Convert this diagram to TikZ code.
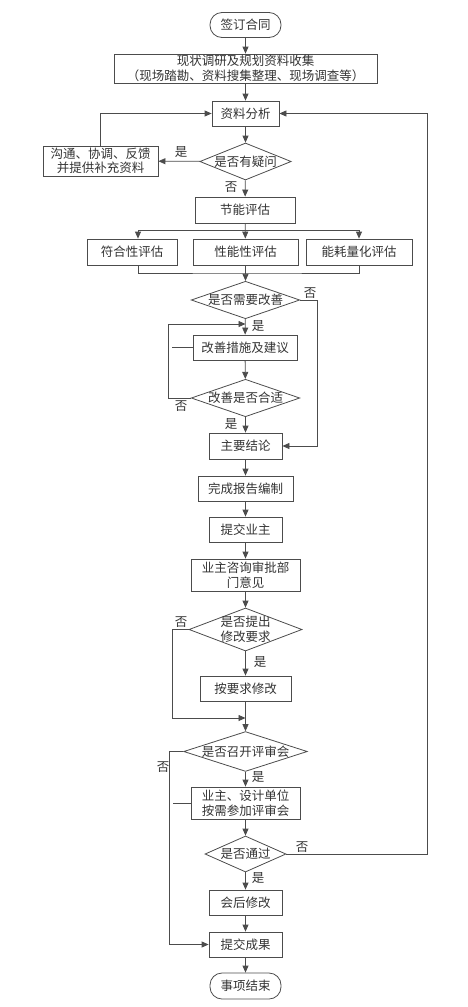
\documentclass[tikz,border=0pt]{standalone}
\usepackage{fontspec}
\setmainfont{Noto Sans CJK SC}
\usetikzlibrary{shapes.geometric,arrows.meta}
\tikzstyle{process}=[rectangle, draw=black!70, line width=0.8pt, inner sep=0pt, align=center,
text=black!80, font=\fontsize{12.5}{14.5}\selectfont]
\tikzstyle{decision}=[diamond, draw=black!70, line width=0.8pt, inner sep=0pt, align=center,
text=black!80, font=\fontsize{12.5}{14.5}\selectfont]
\tikzstyle{terminal}=[rectangle, rounded corners=12pt, draw=black!70, line width=0.8pt,
inner sep=0pt, text=black!80, font=\fontsize{12.5}{14.5}\selectfont]
\tikzstyle{lbl}=[inner sep=0pt, text=black!80, font=\fontsize{12.5}{14.5}\selectfont]
\tikzstyle{line}=[draw=black!70, line width=0.8pt]

\begin{document}
\begin{tikzpicture}[x=1pt, y=-1pt, >={Triangle[length=7pt,width=6pt]}]
\useasboundingbox (0,0) rectangle (467,1007);
\node[terminal, minimum width=71pt, minimum height=25pt](start) at (245.5,25){签订合同};
\node[process, minimum width=263pt, minimum height=29pt](survey) at (245.5,68.5){现状调研及规划资料收集\\（现场踏勘、资料搜集整理、现场调查等）};
\node[process, minimum width=67pt, minimum height=25pt](analysis) at (245.5,113.5){资料分析};
\node[decision, minimum width=91pt, minimum height=37pt, aspect=2.5](doubt) at (245.5,161.5){是否有疑问};
\node[process, minimum width=115pt, minimum height=30pt](feedback) at (100.5,161){沟通、协调、反馈\\并提供补充资料};
\node[process, minimum width=100pt, minimum height=26pt](energy) at (245,210){节能评估};
\node[process, minimum width=90pt, minimum height=26pt](comply) at (132,252){符合性评估};
\node[process, minimum width=105pt, minimum height=26pt](perf) at (245.5,252){性能性评估};
\node[process, minimum width=106pt, minimum height=26pt](quant) at (359,252){能耗量化评估};
\node[decision, minimum width=103pt, minimum height=36pt, aspect=2.9](needimp) at (245.5,300){是否需要改善};
\node[process, minimum width=104pt, minimum height=25pt](measures) at (245,347.5){改善措施及建议};
\node[decision, minimum width=103pt, minimum height=36pt, aspect=2.9](suitable) at (245.5,398){改善是否合适};
\node[process, minimum width=73pt, minimum height=26pt](conclusion) at (245.5,446){主要结论};
\node[process, minimum width=95pt, minimum height=25pt](report) at (245.5,488.5){完成报告编制};
\node[process, minimum width=73pt, minimum height=25pt](submit) at (245.5,529.5){提交业主};
\node[process, minimum width=109pt, minimum height=32pt](approval) at (245.5,575){业主咨询审批部\\门意见};
\node[decision, minimum width=113pt, minimum height=43pt, aspect=2.6, inner sep=-3pt](modreq) at (245.5,629.5){是否提出\\修改要求};
\node[process, minimum width=91pt, minimum height=25pt](modify) at (245.5,688.5){按要求修改};
\node[decision, minimum width=117pt, minimum height=37pt, aspect=3.1](meeting) at (245.5,751.5){是否召开评审会};
\node[process, minimum width=109pt, minimum height=32pt](attend) at (245.5,803){业主、设计单位\\按需参加评审会};
\node[decision, minimum width=81pt, minimum height=36pt, aspect=2.2](pass) at (245.5,854){是否通过};
\node[process, minimum width=73pt, minimum height=25pt](revise) at (245.5,902.5){会后修改};
\node[process, minimum width=73pt, minimum height=25pt](deliver) at (245.5,944.5){提交成果};
\node[terminal, minimum width=71pt, minimum height=26pt](finish) at (245.5,986){事项结束};
\coordinate(split) at (245.5,230);
\coordinate(merge) at (245.5,273);
\coordinate(loopin) at (245.5,324);
\coordinate(joinmod) at (245.5,718);
\node[lbl](yes1) at (181,152){是};
\node[lbl](no1) at (231,187){否};
\node[lbl](no2) at (310,293){否};
\node[lbl](yes2) at (258,326){是};
\node[lbl](no3) at (181,406){否};
\node[lbl](yes3) at (231,424){是};
\node[lbl](no4) at (181,622){否};
\node[lbl](yes4) at (260,662){是};
\node[lbl](no5) at (163,767){否};
\node[lbl](yes5) at (258,777){是};
\node[lbl](no6) at (302,847){否};
\node[lbl](yes6) at (258,878){是};
\draw [line,->](start) -- (survey);
\draw [line,->](survey) -- (analysis);
\draw [line,->](analysis) -- (doubt);
\draw [line,->](doubt) -- (feedback);
\draw [line,->](feedback.north) |- (analysis.west);
\draw [line,->](doubt) -- (energy);
\draw [line,->](energy) -- (perf);
\draw [line,->](split) -| ([xshift=6pt]comply.north);
\draw [line,->](split) -| (quant.north);
\draw [line]([xshift=6pt]comply.south) |- (merge) -| (quant.south);
\draw [line,->](perf) -- (needimp);
\draw [line,->](needimp) -- (measures);
\draw [line,->](measures) -- (suitable);
\draw [line,->](suitable.west) -- ++(-22,0) |- (loopin);
\draw [line](measures.west) -- ++(-21,0);
\draw [line,->](suitable) -- (conclusion);
\draw [line,->](needimp.east) -- ++(17,0) |- (conclusion.east);
\draw [line,->](conclusion) -- (report);
\draw [line,->](report) -- (submit);
\draw [line,->](submit) -- (approval);
\draw [line,->](approval) -- (modreq);
\draw [line,->](modreq) -- (modify);
\draw [line,->](modreq.west) -- ++(-16,0) |- (joinmod);
\draw [line,->](modify) -- (meeting);
\draw [line,->](meeting) -- (attend);
\draw [line,->](meeting.west) -- ++(-14,0) |- (deliver.west);
\draw [line](attend.west) -- ++(-18,0);
\draw [line,->](attend) -- (pass);
\draw [line,->](pass) -- (revise);
\draw [line,->](pass.east) -- ++(141,0) |- (analysis.east);
\draw [line,->](revise) -- (deliver);
\draw [line,->](deliver) -- (finish);
\end{tikzpicture}
\end{document}
